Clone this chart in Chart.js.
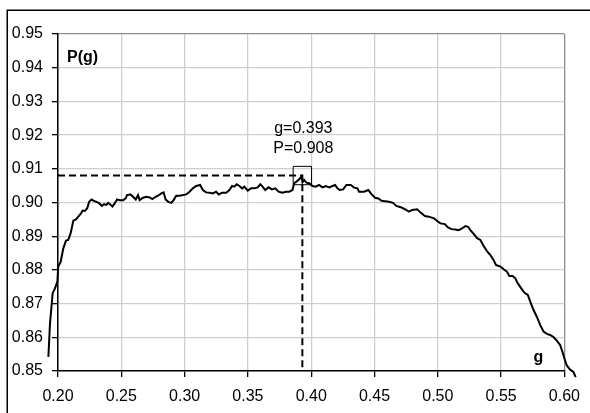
<!DOCTYPE html>
<html>
<head>
<meta charset="utf-8">
<script src="https://cdn.jsdelivr.net/npm/chart.js@4/dist/chart.umd.min.js"></script>
<style>
  html, body { margin: 0; padding: 0; background: #fff; }
  #wrap { width: 590px; height: 413px; position: relative; }
</style>
</head>
<body>
<div id="wrap"><canvas id="c"></canvas></div>
<script>
// ---- data ----
const gValues = [0.1924,0.1937,0.1958,0.1976,0.1995,0.2002,0.2021,0.2042,0.2063,0.2081,0.2100,0.2121,0.2142,0.2160,0.2179,0.2194,0.2212,0.2231,0.2246,0.2265,0.2283,0.2304,0.2325,0.2346,0.2364,0.2383,0.2396,0.2415,0.2430,0.2449,0.2467,0.2488,0.2514,0.2535,0.2545,0.2572,0.2593,0.2614,0.2632,0.2645,0.2671,0.2698,0.2724,0.2745,0.2771,0.2797,0.2816,0.2834,0.2850,0.2871,0.2895,0.2913,0.2934,0.2960,0.3013,0.3039,0.3065,0.3092,0.3123,0.3144,0.3170,0.3197,0.3223,0.3249,0.3270,0.3296,0.3328,0.3354,0.3375,0.3393,0.3411,0.3433,0.3454,0.3472,0.3498,0.3524,0.3550,0.3577,0.3598,0.3616,0.3637,0.3663,0.3690,0.3716,0.3742,0.3773,0.3800,0.3826,0.3852,0.3865,0.3884,0.3905,0.3923,0.3931,0.3944,0.3962,0.3984,0.4010,0.4036,0.4062,0.4089,0.4115,0.4142,0.4168,0.4189,0.4207,0.4226,0.4252,0.4278,0.4313,0.4339,0.4365,0.4378,0.4417,0.4451,0.4478,0.4504,0.4530,0.4556,0.4583,0.4614,0.4646,0.4672,0.4707,0.4740,0.4772,0.4798,0.4837,0.4864,0.4898,0.4929,0.4969,0.4995,0.5021,0.5055,0.5081,0.5108,0.5139,0.5165,0.5191,0.5218,0.5239,0.5257,0.5283,0.5310,0.5336,0.5362,0.5388,0.5415,0.5441,0.5459,0.5494,0.5520,0.5546,0.5565,0.5591,0.5612,0.5632,0.5659,0.5685,0.5711,0.5730,0.5756,0.5782,0.5809,0.5835,0.5861,0.5887,0.5913,0.5940,0.5966,0.5984,0.6000,0.6018,0.6045,0.6071,0.6089];
const pValues = [0.8542,0.8642,0.8731,0.8745,0.8765,0.8810,0.8824,0.8864,0.8887,0.8889,0.8909,0.8946,0.8950,0.8958,0.8966,0.8976,0.8975,0.8983,0.9002,0.9009,0.9005,0.9002,0.8998,0.8990,0.8995,0.8993,0.8999,0.8993,0.8988,0.8998,0.9009,0.9007,0.9007,0.9012,0.9022,0.9024,0.9017,0.9009,0.9022,0.9007,0.9014,0.9017,0.9015,0.9010,0.9017,0.9022,0.9027,0.9030,0.9009,0.9002,0.8999,0.9007,0.9020,0.9020,0.9024,0.9032,0.9042,0.9049,0.9052,0.9037,0.9030,0.9029,0.9027,0.9032,0.9024,0.9029,0.9029,0.9037,0.9049,0.9047,0.9054,0.9049,0.9042,0.9047,0.9035,0.9042,0.9042,0.9045,0.9054,0.9047,0.9037,0.9045,0.9039,0.9042,0.9032,0.9029,0.9032,0.9032,0.9037,0.9057,0.9062,0.9069,0.9077,0.9060,0.9067,0.9059,0.9057,0.9049,0.9047,0.9052,0.9045,0.9049,0.9045,0.9049,0.9052,0.9042,0.9037,0.9039,0.9052,0.9052,0.9044,0.9042,0.9032,0.9032,0.9037,0.9024,0.9014,0.9012,0.9005,0.9004,0.9002,0.8999,0.8990,0.8986,0.8980,0.8973,0.8978,0.8980,0.8970,0.8960,0.8958,0.8953,0.8945,0.8938,0.8936,0.8926,0.8921,0.8920,0.8918,0.8923,0.8930,0.8928,0.8918,0.8907,0.8894,0.8889,0.8871,0.8856,0.8844,0.8829,0.8815,0.8810,0.8802,0.8795,0.8782,0.8782,0.8775,0.8760,0.8745,0.8732,0.8726,0.8706,0.8681,0.8661,0.8636,0.8617,0.8610,0.8607,0.8601,0.8590,0.8577,0.8557,0.8537,0.8517,0.8504,0.8497,0.8482];

const peakG = 0.393;
const peakP = 0.908;
const guideG = [0.20, peakG, peakG];
const guideP = [peakP, peakP, 0.85];
const annotationLines = ["g=0.393", "P=0.908"];
const yAxisTitle = "P(g)";
const xAxisTitle = "g";
const xMin = 0.20, xMax = 0.60, xStep = 0.05;
const yMin = 0.85, yMax = 0.95, yStep = 0.01;

const curve = gValues.map((g, i) => ({ x: g, y: pValues[i] }));
const guide = guideG.map((g, i) => ({ x: g, y: guideP[i] }));

const FONT = "'Liberation Sans', Arial, sans-serif";

const decor = {
  id: 'decor',
  beforeDraw(chart) {
    const ctx = chart.ctx;
    ctx.save();
    ctx.fillStyle = '#fff';
    ctx.fillRect(0, 0, chart.width, chart.height);
    ctx.strokeStyle = '#000';
    ctx.lineWidth = 1.5;
    ctx.strokeRect(7.25, 10.25, 640, 440);
    ctx.restore();
  },
  afterDraw(chart) {
    const ctx = chart.ctx;
    const a = chart.chartArea;
    const xs = chart.scales.x, ys = chart.scales.y;
    ctx.save();
    ctx.fillStyle = '#000';
    ctx.font = 'bold 16px ' + FONT;
    ctx.textAlign = 'left';
    ctx.textBaseline = 'alphabetic';
    ctx.fillText(yAxisTitle, a.left + 9, a.top + 28);
    ctx.fillText(xAxisTitle, a.right - 31, a.bottom - 9);
    ctx.font = '16px ' + FONT;
    ctx.textAlign = 'center';
    const px = xs.getPixelForValue(peakG);
    const py = ys.getPixelForValue(peakP);
    ctx.fillText(annotationLines[0], px + 1, py - 43);
    ctx.fillText(annotationLines[1], px + 1, py - 23);
    ctx.restore();
  }
};

new Chart(document.getElementById('c'), {
  type: 'scatter',
  data: {
    datasets: [
      {
        data: curve,
        showLine: true,
        borderColor: '#000',
        borderWidth: 2,
        pointRadius: 0,
        tension: 0,
        clip: false,
        order: 2
      },
      {
        data: guide,
        showLine: true,
        borderColor: '#000',
        borderWidth: 2,
        borderDash: [7, 4],
        pointRadius: 0,
        tension: 0,
        order: 1
      },
      {
        data: [{ x: peakG, y: peakP }],
        showLine: false,
        pointStyle: 'rect',
        pointRadius: 13,
        pointBorderColor: '#000',
        pointBorderWidth: 1,
        pointBackgroundColor: 'rgba(0,0,0,0)',
        clip: false,
        order: 0
      }
    ]
  },
  options: {
    responsive: true,
    maintainAspectRatio: false,
    animation: false,
    devicePixelRatio: 1,
    events: [],
    layout: { padding: { left: 0, top: 34, right: 24, bottom: 0 } },
    plugins: { legend: { display: false }, tooltip: { enabled: false } },
    scales: {
      x: {
        type: 'linear',
        bounds: 'data',
        afterDataLimits(s) { s.min = xMin; s.max = xMax; },
        afterFit(s) { s.height = 42; },
        ticks: {
          stepSize: xStep,
          color: '#000',
          padding: 10,
          font: { family: FONT, size: 16 },
          callback: v => Number(v).toFixed(2)
        },
        grid: {
          color: c => (c.tick && Math.abs(c.tick.value - xMax) < 1e-6) ? '#8c8c8c' : '#cfcfcf',
          lineWidth: 1.3,
          tickColor: '#000',
          tickLength: 6,
          drawTicks: true
        },
        border: { color: '#000', width: 1.5 }
      },
      y: {
        type: 'linear',
        min: yMin, max: yMax,
        afterFit(s) { s.width = 58; },
        ticks: {
          stepSize: yStep,
          color: '#000',
          padding: 9,
          font: { family: FONT, size: 16 },
          callback: v => Number(v).toFixed(2)
        },
        grid: {
          color: c => (c.tick && Math.abs(c.tick.value - yMax) < 1e-6) ? '#8c8c8c' : '#cfcfcf',
          lineWidth: 1.3,
          tickColor: '#000',
          tickLength: 6,
          drawTicks: true
        },
        border: { color: '#000', width: 1.5 }
      }
    }
  },
  plugins: [decor]
});
</script>
</body>
</html>
